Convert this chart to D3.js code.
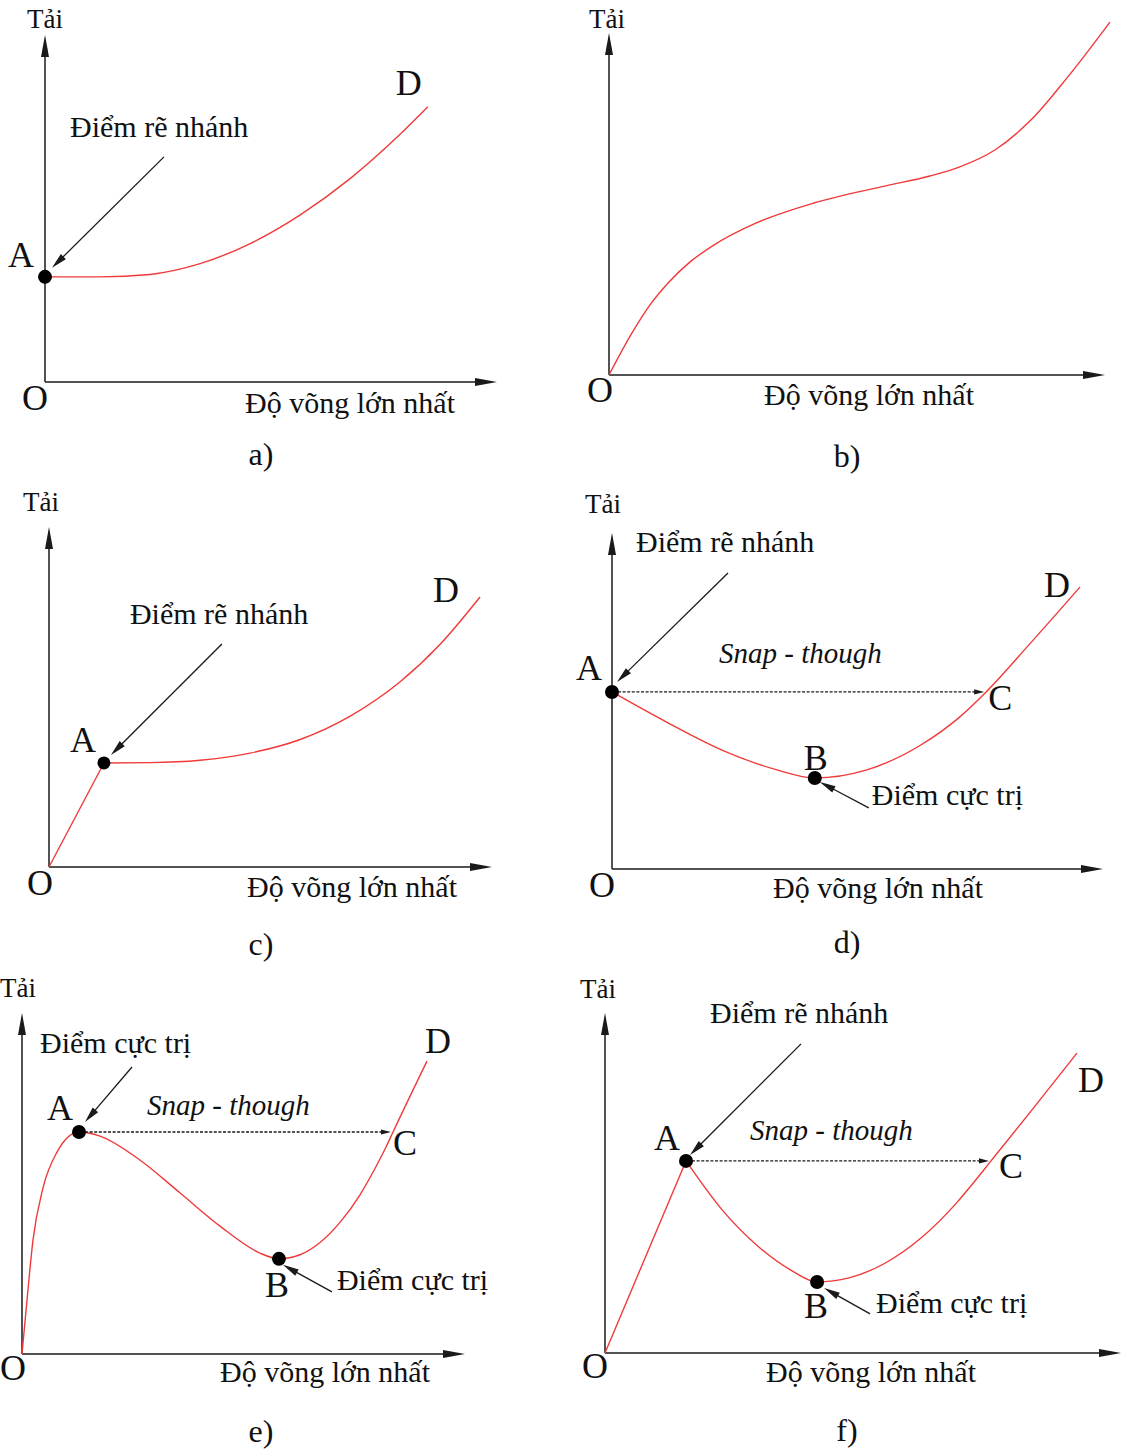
<!DOCTYPE html>
<html>
<head>
<meta charset="utf-8">
<script src="https://cdn.jsdelivr.net/npm/d3@7"></script>
<style>
  body { margin: 0; background: #fff; }
  svg { display: block; }
  text { font-family: "Liberation Serif", "Times New Roman", serif; fill: #111; }
</style>
</head>
<body>
<svg id="chart" width="1125" height="1450"></svg>
<script>
// ---------- text ----------
const captions = ["a)", "b)", "c)", "d)", "e)", "f)"];
const axisTitleY = "Tải";
const axisTitleX = "Độ võng lớn nhất";
const originLabel = "O";
const noteBranch = "Điểm rẽ nhánh";
const noteExtremum = "Điểm cực trị";
const noteSnap = "Snap - though";

// ---------- load–deflection curves (deflection, load), both in 0–100 units ----------
const curveA = [[0, 30.3], [12.2, 30.3], [23.2, 31.0], [34.3, 34.1], [45.4, 39.9], [56.4, 48.1],
                [67.5, 58.6], [78.5, 71.3], [84.7, 79.3]];

const curveB = [[0, 0], [4.64, 12.3], [8.27, 20.5], [12.1, 27.2], [16.3, 33.0], [20.8, 37.7],
                [29.6, 44.4], [41.3, 50.3], [55.8, 55.3], [64.7, 58.2], [70.6, 60.8], [77.8, 65.8],
                [85.1, 74.6], [92.3, 86.8], [101.0, 103.2]];

const rampC  = [[0, 0], [12.4, 30.6]];
const curveC = [[12.4, 30.6], [22.8, 30.7], [34.1, 31.4], [45.4, 33.5], [56.7, 37.5], [67.9, 44.3],
                [79.2, 54.4], [88.3, 65.5], [97.3, 79.4]];

const curveD = [[0, 52.7], [11.4, 43.5], [22.4, 35.4], [33.6, 29.5], [41.3, 27.1], [51.9, 29.5],
                [62.9, 36.9], [70.3, 44.6], [76.2, 52.7], [84.9, 66.7], [95.3, 83.9]];

const curveE = [[0, 0], [1.13, 15.8], [2.48, 33.4], [4.74, 48.7], [7.9, 59.2], [12.87, 65.1],
                [17.6, 63.9], [26.6, 56.9], [35.7, 47.2], [44.7, 37.5], [53.7, 29.6], [58.0, 27.9],
                [62.75, 29.1], [67.27, 32.7], [71.78, 38.6], [76.3, 46.7], [79.68, 54.4],
                [82.17, 60.7], [83.75, 65.1], [91.42, 85.9]];

const rampF  = [[0, 0], [15.7, 56.5]];
const curveF = [[15.7, 56.5], [22.7, 42.1], [29.8, 31.2], [36.0, 24.4], [41.1, 20.9], [47.29, 22.1],
                [54.26, 26.4], [61.24, 33.8], [68.22, 44.3], [70.93, 49.2], [74.81, 56.5],
                [83.33, 72.6], [91.47, 88.2]];

const last = arr => arr[arr.length - 1];

// ---------- panel layout (pixels) ----------
const panels = [
  { ox: 45, oy: 382, w: 452, h: 347,
    yTitle: [27, 28], origin: [22, 410], xTitle: [245, 413], caption: [261, 465],
    ramps: [], curves: [curveA],
    dots: [curveA[0]],
    letters: [{ t: "A", p: curveA[0], dx: -37, dy: -10 }, { t: "D", p: last(curveA), dx: -32, dy: -12 }],
    notes: [{ t: noteBranch, p: curveA[0], text: [25, -140], tail: [119, -120], tip: [7, -9] }],
    snap: null },
  { ox: 609, oy: 375, w: 496, h: 342,
    yTitle: [589, 28], origin: [587, 402], xTitle: [764, 405], caption: [847, 467],
    ramps: [], curves: [curveB], dots: [], letters: [], notes: [], snap: null },
  { ox: 49, oy: 867, w: 443, h: 340,
    yTitle: [23, 511], origin: [27, 895], xTitle: [247, 897], caption: [261, 955],
    ramps: [rampC], curves: [curveC],
    dots: [curveC[0]],
    letters: [{ t: "A", p: curveC[0], dx: -34, dy: -11 }, { t: "D", p: last(curveC), dx: -47, dy: 5 }],
    notes: [{ t: noteBranch, p: curveC[0], text: [26, -139], tail: [118, -119], tip: [7, -8] }],
    snap: null },
  { ox: 612, oy: 869, w: 491, h: 336,
    yTitle: [585, 513], origin: [589, 897], xTitle: [773, 898], caption: [847, 953],
    ramps: [], curves: [curveD],
    dots: [curveD[0], curveD[4]],
    letters: [{ t: "A", p: curveD[0], dx: -36, dy: -12 }, { t: "B", p: curveD[4], dx: -11, dy: -8 },
              { t: "C", p: curveD[8], dx: 2, dy: 18 }, { t: "D", p: last(curveD), dx: -36, dy: 10 }],
    notes: [{ t: noteBranch, p: curveD[0], text: [24, -140], tail: [116, -119], tip: [5, -10] },
            { t: noteExtremum, p: curveD[4], text: [57, 27], tail: [54, 30], tip: [5, 4] }],
    snap: { from: curveD[0], to: curveD[8], text: [107, -29] } },
  { ox: 22, oy: 1354, w: 443, h: 341,
    yTitle: [0, 997], origin: [0, 1380], xTitle: [220, 1382], caption: [261, 1442],
    ramps: [], curves: [curveE],
    dots: [curveE[5], curveE[11]],
    letters: [{ t: "A", p: curveE[5], dx: -32, dy: -12 }, { t: "B", p: curveE[11], dx: -14, dy: 38 },
              { t: "C", p: curveE[18], dx: 0, dy: 23 }, { t: "D", p: last(curveE), dx: -2, dy: -8 }],
    notes: [{ t: noteExtremum, p: curveE[5], text: [-39, -79], tail: [53, -65], tip: [6, -10] },
            { t: noteExtremum, p: curveE[11], text: [58, 31], tail: [53, 33], tip: [4, 6] }],
    snap: { from: curveE[5], to: curveE[18], text: [68, -17] } },
  { ox: 605, oy: 1353, w: 516, h: 340,
    yTitle: [580, 998], origin: [582, 1378], xTitle: [766, 1382], caption: [847, 1441],
    ramps: [rampF], curves: [curveF],
    dots: [curveF[0], curveF[4]],
    letters: [{ t: "A", p: curveF[0], dx: -32, dy: -11 }, { t: "B", p: curveF[4], dx: -13, dy: 36 },
              { t: "C", p: curveF[10], dx: 8, dy: 17 }, { t: "D", p: last(curveF), dx: 1, dy: 39 }],
    notes: [{ t: noteBranch, p: curveF[0], text: [24, -138], tail: [115, -117], tip: [4, -6] },
            { t: noteExtremum, p: curveF[4], text: [59, 31], tail: [53, 32], tip: [7, 6] }],
    snap: { from: curveF[0], to: curveF[10], text: [64, -21] } }
];

// ---------- styles ----------
const RED = "#f03a3a";
const INK = "#1a1a1a";

const svg = d3.select("#chart");

// line with a filled triangular head at (x2, y2)
function arrow(g, x1, y1, x2, y2, len, hw, width, dash) {
  const dx = x2 - x1, dy = y2 - y1, L = Math.hypot(dx, dy);
  const ux = dx / L, uy = dy / L;
  const bx = x2 - ux * len, by = y2 - uy * len;
  const ln = g.append("line")
    .attr("x1", x1).attr("y1", y1)
    .attr("x2", bx + ux * 2).attr("y2", by + uy * 2)
    .attr("stroke", INK).attr("stroke-width", width);
  if (dash) ln.attr("stroke-dasharray", dash);
  g.append("path")
    .attr("d", `M${x2},${y2}L${bx - uy * hw},${by + ux * hw}L${bx + uy * hw},${by - ux * hw}Z`)
    .attr("fill", INK);
}

panels.forEach((P, i) => {
  const g = svg.append("g");
  const x = d3.scaleLinear().domain([0, 100]).range([P.ox, P.ox + P.w]);
  const y = d3.scaleLinear().domain([0, 100]).range([P.oy, P.oy - P.h]);

  // axes with arrow tips
  arrow(g, x(0), y(0), x(100), y(0), 22, 4, 1.5);
  arrow(g, x(0), y(0), x(0), y(100), 22, 4, 1.5);

  // axis titles, origin and caption
  g.append("text").attr("x", P.yTitle[0]).attr("y", P.yTitle[1]).attr("font-size", 27).text(axisTitleY);
  g.append("text").attr("x", P.origin[0]).attr("y", P.origin[1]).attr("font-size", 36).text(originLabel);
  g.append("text").attr("x", P.xTitle[0]).attr("y", P.xTitle[1]).attr("font-size", 30).text(axisTitleX);
  g.append("text").attr("x", P.caption[0]).attr("y", P.caption[1]).attr("font-size", 32)
    .attr("text-anchor", "middle").text(captions[i]);

  // load–deflection path: straight pre-buckling ramps and smooth post-buckling branches
  const straight = d3.line().x(d => x(d[0])).y(d => y(d[1]));
  const smooth = d3.line().x(d => x(d[0])).y(d => y(d[1])).curve(d3.curveMonotoneX);
  P.ramps.forEach(r => g.append("path").attr("d", straight(r))
    .attr("fill", "none").attr("stroke", RED).attr("stroke-width", 1.4));
  P.curves.forEach(c => g.append("path").attr("d", smooth(c))
    .attr("fill", "none").attr("stroke", RED).attr("stroke-width", 1.4));

  // snap-through jump
  if (P.snap) {
    const ax = x(P.snap.from[0]), ay = y(P.snap.from[1]);
    const cx = x(P.snap.to[0]), cy = y(P.snap.to[1]);
    arrow(g, ax + 6, ay, cx - 2, cy, 10, 2.6, 1.3, "3,1.6");
    g.append("text").attr("x", ax + P.snap.text[0]).attr("y", ay + P.snap.text[1])
      .attr("font-size", 29).attr("font-style", "italic").text(noteSnap);
  }

  // annotation arrows
  P.notes.forEach(n => {
    const px = x(n.p[0]), py = y(n.p[1]);
    arrow(g, px + n.tail[0], py + n.tail[1], px + n.tip[0], py + n.tip[1], 16, 3.6, 1.3);
    g.append("text").attr("x", px + n.text[0]).attr("y", py + n.text[1])
      .attr("font-size", 30).text(n.t);
  });

  // marked points
  g.selectAll("circle.pt").data(P.dots).join("circle").attr("class", "pt")
    .attr("cx", d => x(d[0])).attr("cy", d => y(d[1])).attr("r", i === 2 ? 6.5 : 7).attr("fill", "#000");

  P.letters.forEach(l => {
    g.append("text").attr("x", x(l.p[0]) + l.dx).attr("y", y(l.p[1]) + l.dy)
      .attr("font-size", 36).text(l.t);
  });
});
</script>
</body>
</html>
